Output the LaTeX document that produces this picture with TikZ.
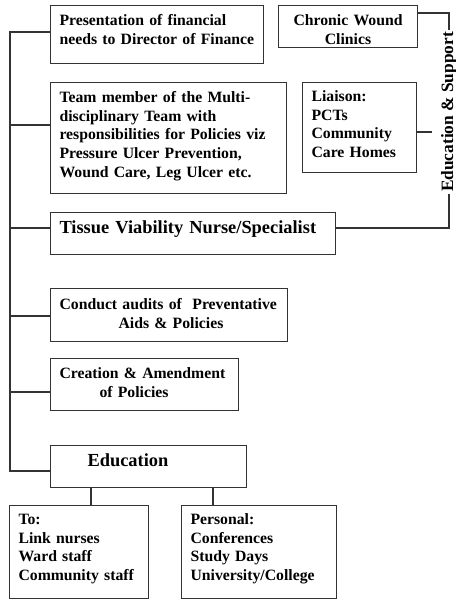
\documentclass[tikz,border=0pt]{standalone}
\usepackage{fontspec}
\setmainfont{Liberation Serif}
\usepackage{tikz}
\usetikzlibrary{calc}
\definecolor{chartline}{HTML}{333333}

\begin{document}
\begin{tikzpicture}[x=0.75pt, y=-0.75pt,
  every node/.style={font=\bfseries\fontsize{11.8}{14}\selectfont},
  box/.style={draw=chartline, line width=0.8pt, anchor=north west, align=left,
    inner xsep=6.75pt, inner ysep=0pt},
  big/.style={font=\bfseries\fontsize{13.8}{16}\selectfont},
  link/.style={chartline, line width=0.8pt}]
\useasboundingbox (0,0) rectangle (455,600);
% left column
\node[box, text width=146.25pt, text height=15pt, text depth=28.5pt] (pres) at (50,5)
  {Presentation of financial\\needs to Director of Finance};
\node[box, text width=163.5pt, text height=15pt, text depth=68.25pt] (team) at (50,82)
  {Team member of the Multi-\\disciplinary Team with\\responsibilities for Policies viz\\Pressure Ulcer Prevention,\\Wound Care, Leg Ulcer etc.};
\node[box, big, text width=200.25pt, text height=15.75pt, text depth=15.75pt] (tvn) at (50,212)
  {Tissue Viability Nurse/Specialist};
\node[box, text width=164.25pt, text height=15.75pt, text depth=24pt] (conduct) at (50,288)
  {Conduct audits of\ \ Preventative\\\hspace*{44.25pt}Aids \& Policies};
\node[box, text width=127.5pt, text height=15pt, text depth=24pt] (creation) at (50,358)
  {Creation \& Amendment\\\hspace*{30pt}of Policies};
\node[box, big, text width=133.5pt, text height=15.75pt, text depth=15.75pt] (edu) at (50,445)
  {\hspace*{21pt}Education};
\node[box, text width=90.75pt, text height=14.25pt, text depth=55.5pt] (tobox) at (9,505)
  {To:\\Link nurses\\Ward staff\\Community staff};
\node[box, text width=102.75pt, text height=14.25pt, text depth=55.5pt] (personal) at (181,505)
  {Personal:\\Conferences\\Study Days\\University/College};
% right column
\node[box, align=center, text width=90.75pt, text height=15pt, text depth=16.5pt] (chronic) at (278,5)
  {Chronic Wound\\Clinics};
\node[box, text width=72pt, text height=14.25pt, text depth=53.25pt] (liaison) at (302,82)
  {Liaison:\\PCTs\\Community\\Care Homes};
\node[rotate=90, inner sep=1pt, font=\bfseries\fontsize{13}{15}\selectfont] (lbl) at (449,112)
  {Education \& Support};

% trunk on the left
\coordinate (ttop) at (10,32);
\coordinate (tbot) at (10,471);
\draw[link] (pres.west |- ttop) -- (ttop) -- (tbot) -- (edu.west |- tbot);
\foreach \b/\yy in {team/125,tvn/228,conduct/316,creation/392}
  \draw[link] (\b.west |- 0,\yy) -- (ttop |- 0,\yy);
% education below
\draw[link] ($(edu.south west)+(41,0)$) -- ($(tobox.north west)+(82,0)$);
\draw[link] ($(edu.south west)+(163,0)$) -- ($(personal.north west)+(32,0)$);
% right bracket
\coordinate (lstub) at (432,132);
\draw[link] (chronic.east |- 0,13) -| (lbl.east);
\draw[link] (tvn.east |- 0,228) -| (lbl.west);
\draw[link] (liaison.east |- lstub) -- (lstub);
\end{tikzpicture}
\end{document}
